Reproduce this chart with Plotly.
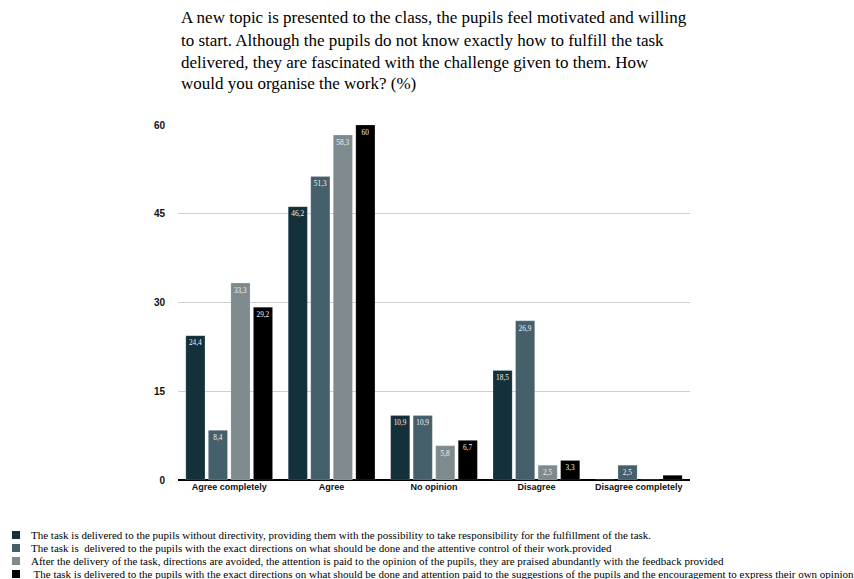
import plotly.graph_objects as go

categories = ["Agree completely", "Agree", "No opinion", "Disagree", "Disagree completely"]
series_names = [
    "The task is delivered to the pupils without directivity, providing them with the possibility to take responsibility for the fulfillment of the task.",
    "The task is  delivered to the pupils with the exact directions on what should be done and the attentive control of their work.provided",
    "After the delivery of the task, directions are avoided, the attention is paid to the opinion of the pupils, they are praised abundantly with the feedback provided",
    " The task is delivered to the pupils with the exact directions on what should be done and attention paid to the suggestions of the pupils and the encouragement to express their own opinion",
]
s1 = [24.4, 46.2, 10.9, 18.5, 0]
s2 = [8.4, 51.3, 10.9, 26.9, 2.5]
s3 = [33.3, 58.3, 5.8, 2.5, 0]
s4 = [29.2, 60, 6.7, 3.3, 0.8]
colors = ["#13303b", "#46606b", "#7f8a8f", "#000000"]
title_lines = [
    "A new topic is presented to the class, the pupils feel motivated and willing",
    "to start. Although the pupils do not know exactly how to fulfill the task",
    "delivered, they are fascinated with the challenge given to them. How",
    "would you organise the work? (%)",
]
yticks = [0, 15, 30, 45, 60]


def fmt(v):
    if v < 1.5:
        return ""
    s = ("%g" % v).replace(".", ",")
    return s


fig = go.Figure()
for name, vals, col in zip(series_names, [s1, s2, s3, s4], colors):
    fig.add_trace(go.Bar(
        x=categories, y=vals, name=name,
        marker=dict(color=col, line=dict(color="rgba(255,255,255,0.35)", width=0.5)),
        text=[fmt(v) for v in vals],
        textposition="inside", insidetextanchor="end",
        textangle=0,
        textfont=dict(family="Liberation Serif", size=7.5, color="#f2f2f2"),
        showlegend=False,
    ))

W, H = 854, 579
L, R, T, B = 178, 164, 125, 99
pw, ph = W - L - R, H - T - B

fig.update_layout(
    width=W, height=H,
    margin=dict(l=L, r=R, t=T, b=B),
    paper_bgcolor="white", plot_bgcolor="white",
    barmode="group", bargap=0.12, bargroupgap=0.15,
    uniformtext=dict(minsize=6, mode="show"),
    xaxis=dict(showgrid=False, showline=False, ticks="",
               tickvals=categories,
               ticktext=["<b>%s</b>" % c for c in categories],
               tickfont=dict(family="Liberation Sans", size=9, color="#111"),
               ),
    yaxis=dict(range=[0, 60], tickvals=yticks,
               ticktext=["<b>%d</b>" % t for t in yticks],
               showgrid=True, gridcolor="#cfcfcf",
               gridwidth=1, zeroline=True, zerolinecolor="#000", zerolinewidth=2,
               showline=False, ticks="", ticklabelstandoff=12,
               tickfont=dict(family="Liberation Sans", size=10, color="#111")),
    font=dict(family="Liberation Sans"),
)

annotations = []
shapes = []
# title lines
for i, line in enumerate(title_lines):
    yp = 18 + i * 22
    annotations.append(dict(
        text=line, xref="paper", yref="paper", showarrow=False,
        x=(179 - L) / pw, y=1 + (T - yp) / ph, xanchor="left", yanchor="middle",
        font=dict(family="Liberation Serif", size=17, color="#000"),
    ))
# manual compact legend
for i, (name, col) in enumerate(zip(series_names, colors)):
    yc = 535 + i * 13
    y0 = 1 + (T - (yc - 4)) / ph
    y1 = 1 + (T - (yc + 4)) / ph
    shapes.append(dict(type="rect", xref="paper", yref="paper",
                       x0=(12 - L) / pw, x1=(20 - L) / pw, y0=y1, y1=y0,
                       fillcolor=col, line=dict(width=0)))
    annotations.append(dict(
        text=name, xref="paper", yref="paper", showarrow=False,
        x=(29 - L) / pw, y=1 + (T - yc) / ph, xanchor="left", yanchor="middle",
        font=dict(family="Liberation Serif", size=11, color="#000"),
    ))
fig.update_layout(annotations=annotations, shapes=shapes)

fig.write_html("out.html")
